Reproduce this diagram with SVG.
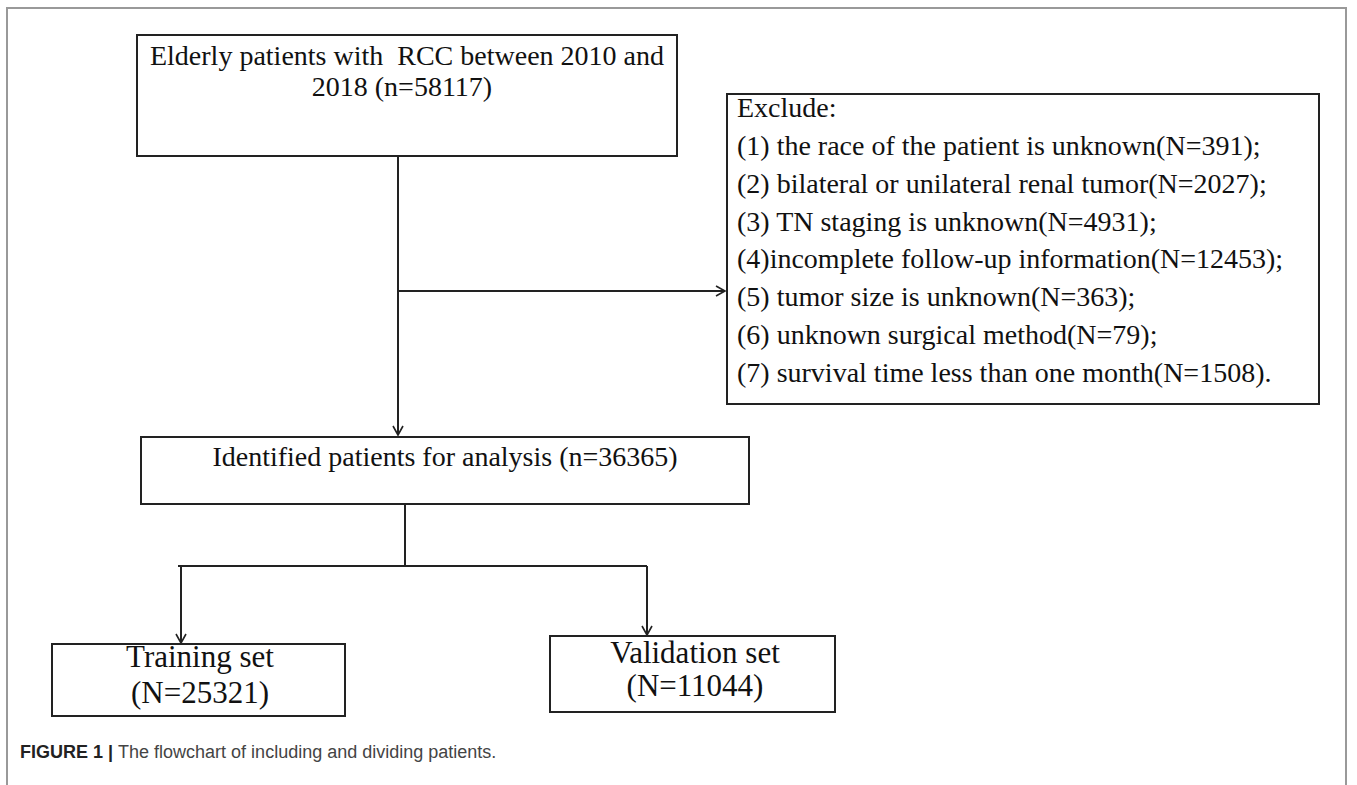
<svg xmlns="http://www.w3.org/2000/svg" width="1357" height="785" viewBox="0 0 1357 785">
<defs>
<style>
.box{fill:#fff;stroke:#222;stroke-width:2}
.t{font-family:"Liberation Serif","Times New Roman",serif;font-size:28px;fill:#111;white-space:pre}
.big{font-size:31px}
.ln{fill:none;stroke:#222;stroke-width:2}
.cap{font-family:"Liberation Sans",Arial,sans-serif;font-size:18px;fill:#444}
</style>
<marker id="arr" markerWidth="12" markerHeight="12" refX="10" refY="6" orient="auto" markerUnits="userSpaceOnUse">
<path d="M1,1 L10,6 L1,11" fill="none" stroke="#222" stroke-width="1.6"/>
</marker>
</defs>
<rect width="1357" height="785" fill="#fff"/>
<path d="M7,785 V8 H1346 V785" fill="none" stroke="#999" stroke-width="2"/>

<g id="connectors">
<path class="ln" d="M398,156 V435" marker-end="url(#arr)"/>
<path class="ln" d="M398,291 H725" marker-end="url(#arr)"/>
<path class="ln" d="M405,504 V566"/>
<path class="ln" d="M178,566 H647"/>
<path class="ln" d="M181,566 V643" marker-end="url(#arr)"/>
<path class="ln" d="M647,566 V635" marker-end="url(#arr)"/>
</g>

<g id="node-start">
<rect class="box" x="137" y="35" width="540" height="121"/>
<text class="t" x="407" y="65" text-anchor="middle">Elderly patients with  RCC between 2010 and</text>
<text class="t" x="402" y="96" text-anchor="middle">2018 (n=58117)</text>
</g>

<g id="node-exclude">
<rect class="box" x="727" y="94" width="592" height="310"/>
<text class="t" x="737" y="117">Exclude:</text>
<text class="t" x="737" y="155">(1) the race of the patient is unknown(N=391);</text>
<text class="t" x="737" y="193">(2) bilateral or unilateral renal tumor(N=2027);</text>
<text class="t" x="737" y="231">(3) TN staging is unknown(N=4931);</text>
<text class="t" x="737" y="268">(4)incomplete follow-up information(N=12453);</text>
<text class="t" x="737" y="306">(5) tumor size is unknown(N=363);</text>
<text class="t" x="737" y="344">(6) unknown surgical method(N=79);</text>
<text class="t" x="737" y="382">(7) survival time less than one month(N=1508).</text>
</g>

<g id="node-identified">
<rect class="box" x="141" y="437" width="608" height="67"/>
<text class="t" x="445" y="466" text-anchor="middle">Identified patients for analysis (n=36365)</text>
</g>

<g id="node-training">
<rect class="box" x="52" y="644" width="293" height="72"/>
<text class="t big" x="200" y="667" text-anchor="middle">Training set</text>
<text class="t big" x="200" y="703" text-anchor="middle">(N=25321)</text>
</g>

<g id="node-validation">
<rect class="box" x="550" y="636" width="285" height="76"/>
<text class="t big" x="695" y="663" text-anchor="middle">Validation set</text>
<text class="t big" x="695" y="696" text-anchor="middle">(N=11044)</text>
</g>

<g id="caption">
<text class="cap" x="20" y="758"><tspan font-weight="bold" fill="#222">FIGURE 1</tspan><tspan font-weight="bold" fill="#222" dx="5">|</tspan><tspan dx="5">The flowchart of including and dividing patients.</tspan></text>
</g>
</svg>
